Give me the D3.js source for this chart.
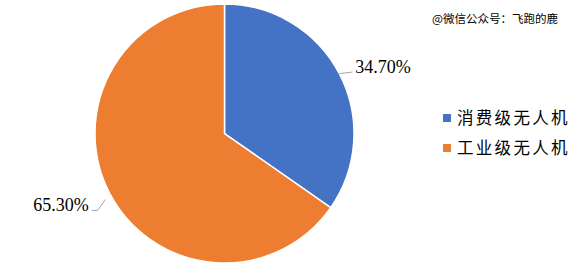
<!DOCTYPE html>
<html>
<head>
	<meta charset="utf-8">
	<script src="https://d3js.org/d3.v7.min.js"></script>
	<style>
		body { margin: 0; background: #fff; }
		.pct { font-family: "Liberation Serif", "Times New Roman", serif; font-size: 18px; fill: #000; }
		.legend-text { font-family: "Noto Sans CJK SC", sans-serif; font-size: 16.5px; letter-spacing: 2.3px; fill: #000; }
		.mark { font-family: "Noto Sans CJK SC", sans-serif; font-size: 11.5px; fill: #000; }
	</style>
</head>
<body>
	<div id="chart"></div>

	<script type="text/javascript">
		var categories = ["消费级无人机", "工业级无人机"];
		var values = [34.7, 65.3];
		var labels = ["34.70%", "65.30%"];
		var colors = ["#4472C4", "#ED7D31"];

		var width = 586;
		var height = 269;
		var cx = 224.5, cy = 133.5, radius = 129.5;

		var svg = d3.select("#chart")
			.append("svg")
			.attr("width", width)
			.attr("height", height);

		var g = svg.append("g")
			.attr("transform", "translate(" + cx + "," + cy + ")");

		var pie = d3.pie().sort(null);
		var arc = d3.arc().innerRadius(0).outerRadius(radius);
		var slices = pie(values);

		g.selectAll("path")
			.data(slices)
			.enter().append("path")
			.attr("d", arc)
			.style("fill", function(d, i){ return colors[i]; })
			.style("stroke", "#fff")
			.style("stroke-width", 1.5);

		// leader lines: from the arc at mid angle, out to the label
		function onArc(a, r){
			return [r * Math.sin(a), -r * Math.cos(a)];
		}
		var labelPos = [
			{dx: 13, dy: -1.5, elbow: 0, cut: 0, anchor: "start"},
			{dx: -18, dy: 17, elbow: 6, cut: 0.35, anchor: "end"}
		];

		slices.forEach(function(d, i){
			var mid = (d.startAngle + d.endAngle) / 2;
			var p0 = onArc(mid, radius);
			var lp = labelPos[i];
			var side = lp.anchor == "start" ? 1 : -1;
			var p2 = [p0[0] + lp.dx, p0[1] + lp.dy];
			var p1 = lp.elbow == 0 ? p0 : [p2[0] - side * lp.elbow, p2[1]];
			var ps = [p1[0] + (p0[0] - p1[0]) * (1 - lp.cut), p1[1] + (p0[1] - p1[1]) * (1 - lp.cut)];
			g.append("polyline")
				.attr("points", [ps, p1, p2].map(function(p){ return p.join(","); }).join(" "))
				.style("fill", "none")
				.style("stroke", "#A6A6A6")
				.style("stroke-width", 1);
			g.append("text")
				.attr("class", "pct")
				.attr("x", p2[0] + side * 3)
				.attr("y", p2[1] + 1)
				.attr("text-anchor", lp.anchor)
				.text(labels[i]);
		});

		var legend = svg.append("g")
			.attr("transform", "translate(443,114)");

		var row = legend.selectAll("g")
			.data(categories)
			.enter().append("g")
			.attr("transform", function(d, i){ return "translate(0," + (i * 30) + ")"; });

		row.append("rect")
			.attr("width", 8)
			.attr("height", 8)
			.style("fill", function(d, i){ return colors[i]; });

		row.append("text")
			.attr("class", "legend-text")
			.attr("x", 14)
			.attr("y", 4)
			.attr("dy", "0.36em")
			.text(function(d){ return d; });

		svg.append("text")
			.attr("class", "mark")
			.attr("x", 432)
			.attr("y", 23)
			.text("@微信公众号：飞跑的鹿");
	</script>
</body>
</html>
